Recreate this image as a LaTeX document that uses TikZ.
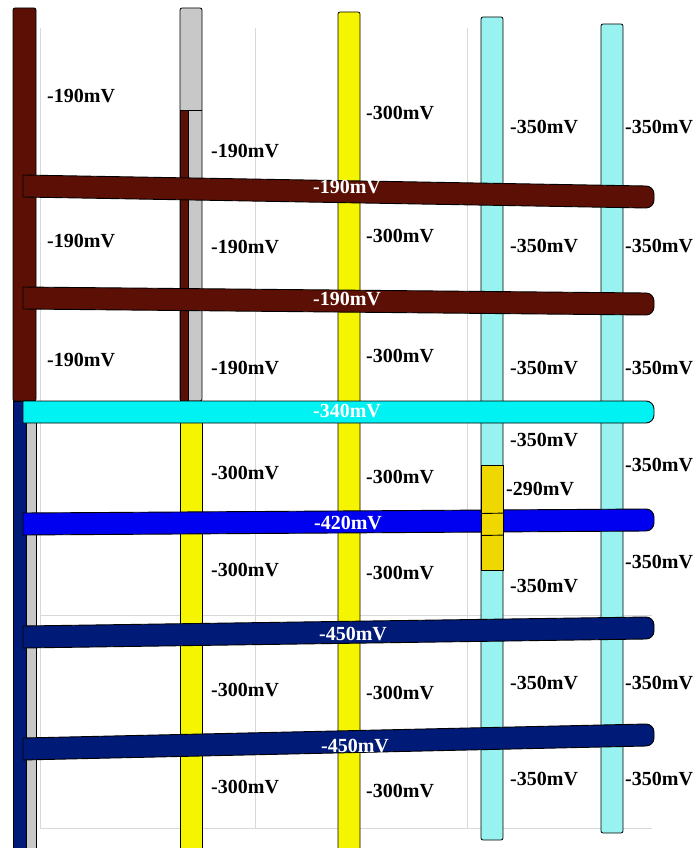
\documentclass[tikz,border=0pt]{standalone}
\usepackage{fontspec}
\setmainfont{Liberation Serif}
\definecolor{dred}{RGB}{92,16,5}
\definecolor{cyanbar}{RGB}{0,242,242}
\definecolor{lcyan}{RGB}{152,242,240}
\definecolor{ybar}{RGB}{245,245,0}
\definecolor{gold}{RGB}{238,216,0}
\definecolor{bbar}{RGB}{0,0,240}
\definecolor{navy}{RGB}{0,26,120}
\definecolor{gbar}{RGB}{200,200,200}
\definecolor{grid}{RGB}{216,216,216}
\newcommand{\hband}[4]{% colour, left top y, right top y, name
  \draw[hb, fill=#1] (23,#2) -- (646,#3) arc[start angle=-90, end angle=0, radius=8]
    -- (654,#3+14) arc[start angle=0, end angle=90, radius=8] -- (23,#2+22) -- cycle;
  \coordinate (#4) at (0,0);}
\begin{document}
\begin{tikzpicture}[x=1pt,y=-1pt,
  vb/.style={draw=black, line width=0.8pt, rounded corners=2},
  hb/.style={draw=black, line width=0.9pt},
  gl/.style={draw=grid, line width=0.8pt},
  lbl/.style={font=\bfseries\fontsize{20}{20}\selectfont, anchor=west, inner sep=0pt},
  wlbl/.style={lbl, text=white, anchor=center}]
\useasboundingbox (0,0) rectangle (697,848);
% grid
\draw[gl] (40,28) -- (40,828);
\draw[gl] (255,28) -- (255,828);
\draw[gl] (467,28) -- (467,828);
\draw[gl] (40,615) -- (652,615);
\draw[gl] (40,828) -- (652,828);
% vertical bar 1
\draw[vb, fill=dred] (13,8) rectangle (36,401);
\draw[draw=black, line width=0.8pt, fill=navy] (13,401) rectangle (26,852);
\draw[draw=black, line width=0.8pt, fill=gbar] (26,401) rectangle (36,852);
% vertical bar 2
\draw[vb, fill=gbar] (180,8) rectangle (202,401);
\draw[draw=black, line width=0.8pt, fill=dred] (180,110) rectangle (188,401);
\draw[draw=black, line width=0.8pt] (180,110) -- (202,110);
\draw[draw=black, line width=0.8pt, fill=ybar] (180,401) rectangle (202,852);
% vertical bar 3
\draw[vb, fill=ybar] (338,12) rectangle (360,852);
% vertical bar 4
\draw[vb, fill=lcyan] (481,17) rectangle (503,840);
% vertical bar 5
\draw[vb, fill=lcyan] (601,24) rectangle (623,833);
% horizontal bars
\hband{dred}{175}{186}{h1}
\hband{dred}{287}{293}{h2}
\hband{cyanbar}{401}{401}{h3}
\hband{bbar}{513}{509}{h4}
\hband{navy}{626}{617}{h5}
\hband{navy}{738}{724}{h6}
% gold section of bar 4
\draw[draw=black, line width=0.8pt, fill=gold] (481,465) rectangle (503,570);
\draw[hb] (481,513.5) -- (503,513.1);
\draw[hb] (481,535.5) -- (503,535.1);
% white labels
\node[wlbl] (w1) at (347,187) {-190mV};
\node[wlbl] (w2) at (347,299) {-190mV};
\node[wlbl] (w3) at (347,411) {-340mV};
\node[wlbl] (w4) at (348,523) {-420mV};
\node[wlbl] (w5) at (353,634) {-450mV};
\node[wlbl] (w6) at (355,746) {-450mV};
% column 1
\node[lbl] (a1) at (47,96) {-190mV};
\node[lbl] (a2) at (47,241) {-190mV};
\node[lbl] (a3) at (47,360) {-190mV};
% column 2
\node[lbl] (b1) at (211,151) {-190mV};
\node[lbl] (b2) at (211,247) {-190mV};
\node[lbl] (b3) at (211,368) {-190mV};
\node[lbl] (b4) at (211,473) {-300mV};
\node[lbl] (b5) at (211,570) {-300mV};
\node[lbl] (b6) at (211,690) {-300mV};
\node[lbl] (b7) at (211,787) {-300mV};
% column 3
\node[lbl] (c1) at (366,113) {-300mV};
\node[lbl] (c2) at (366,236) {-300mV};
\node[lbl] (c3) at (366,356) {-300mV};
\node[lbl] (c4) at (366,477) {-300mV};
\node[lbl] (c5) at (366,573) {-300mV};
\node[lbl] (c6) at (366,693) {-300mV};
\node[lbl] (c7) at (366,791) {-300mV};
% column 4
\node[lbl] (d1) at (510,127) {-350mV};
\node[lbl] (d2) at (510,246) {-350mV};
\node[lbl] (d3) at (510,368) {-350mV};
\node[lbl] (d4) at (510,440) {-350mV};
\node[lbl] (d5) at (506,489) {-290mV};
\node[lbl] (d6) at (510,586) {-350mV};
\node[lbl] (d7) at (510,683) {-350mV};
\node[lbl] (d8) at (510,779) {-350mV};
% column 5
\node[lbl] (e1) at (625,127) {-350mV};
\node[lbl] (e2) at (625,246) {-350mV};
\node[lbl] (e3) at (625,368) {-350mV};
\node[lbl] (e4) at (625,465) {-350mV};
\node[lbl] (e5) at (625,562) {-350mV};
\node[lbl] (e6) at (625,683) {-350mV};
\node[lbl] (e7) at (625,779) {-350mV};
\end{tikzpicture}
\end{document}
